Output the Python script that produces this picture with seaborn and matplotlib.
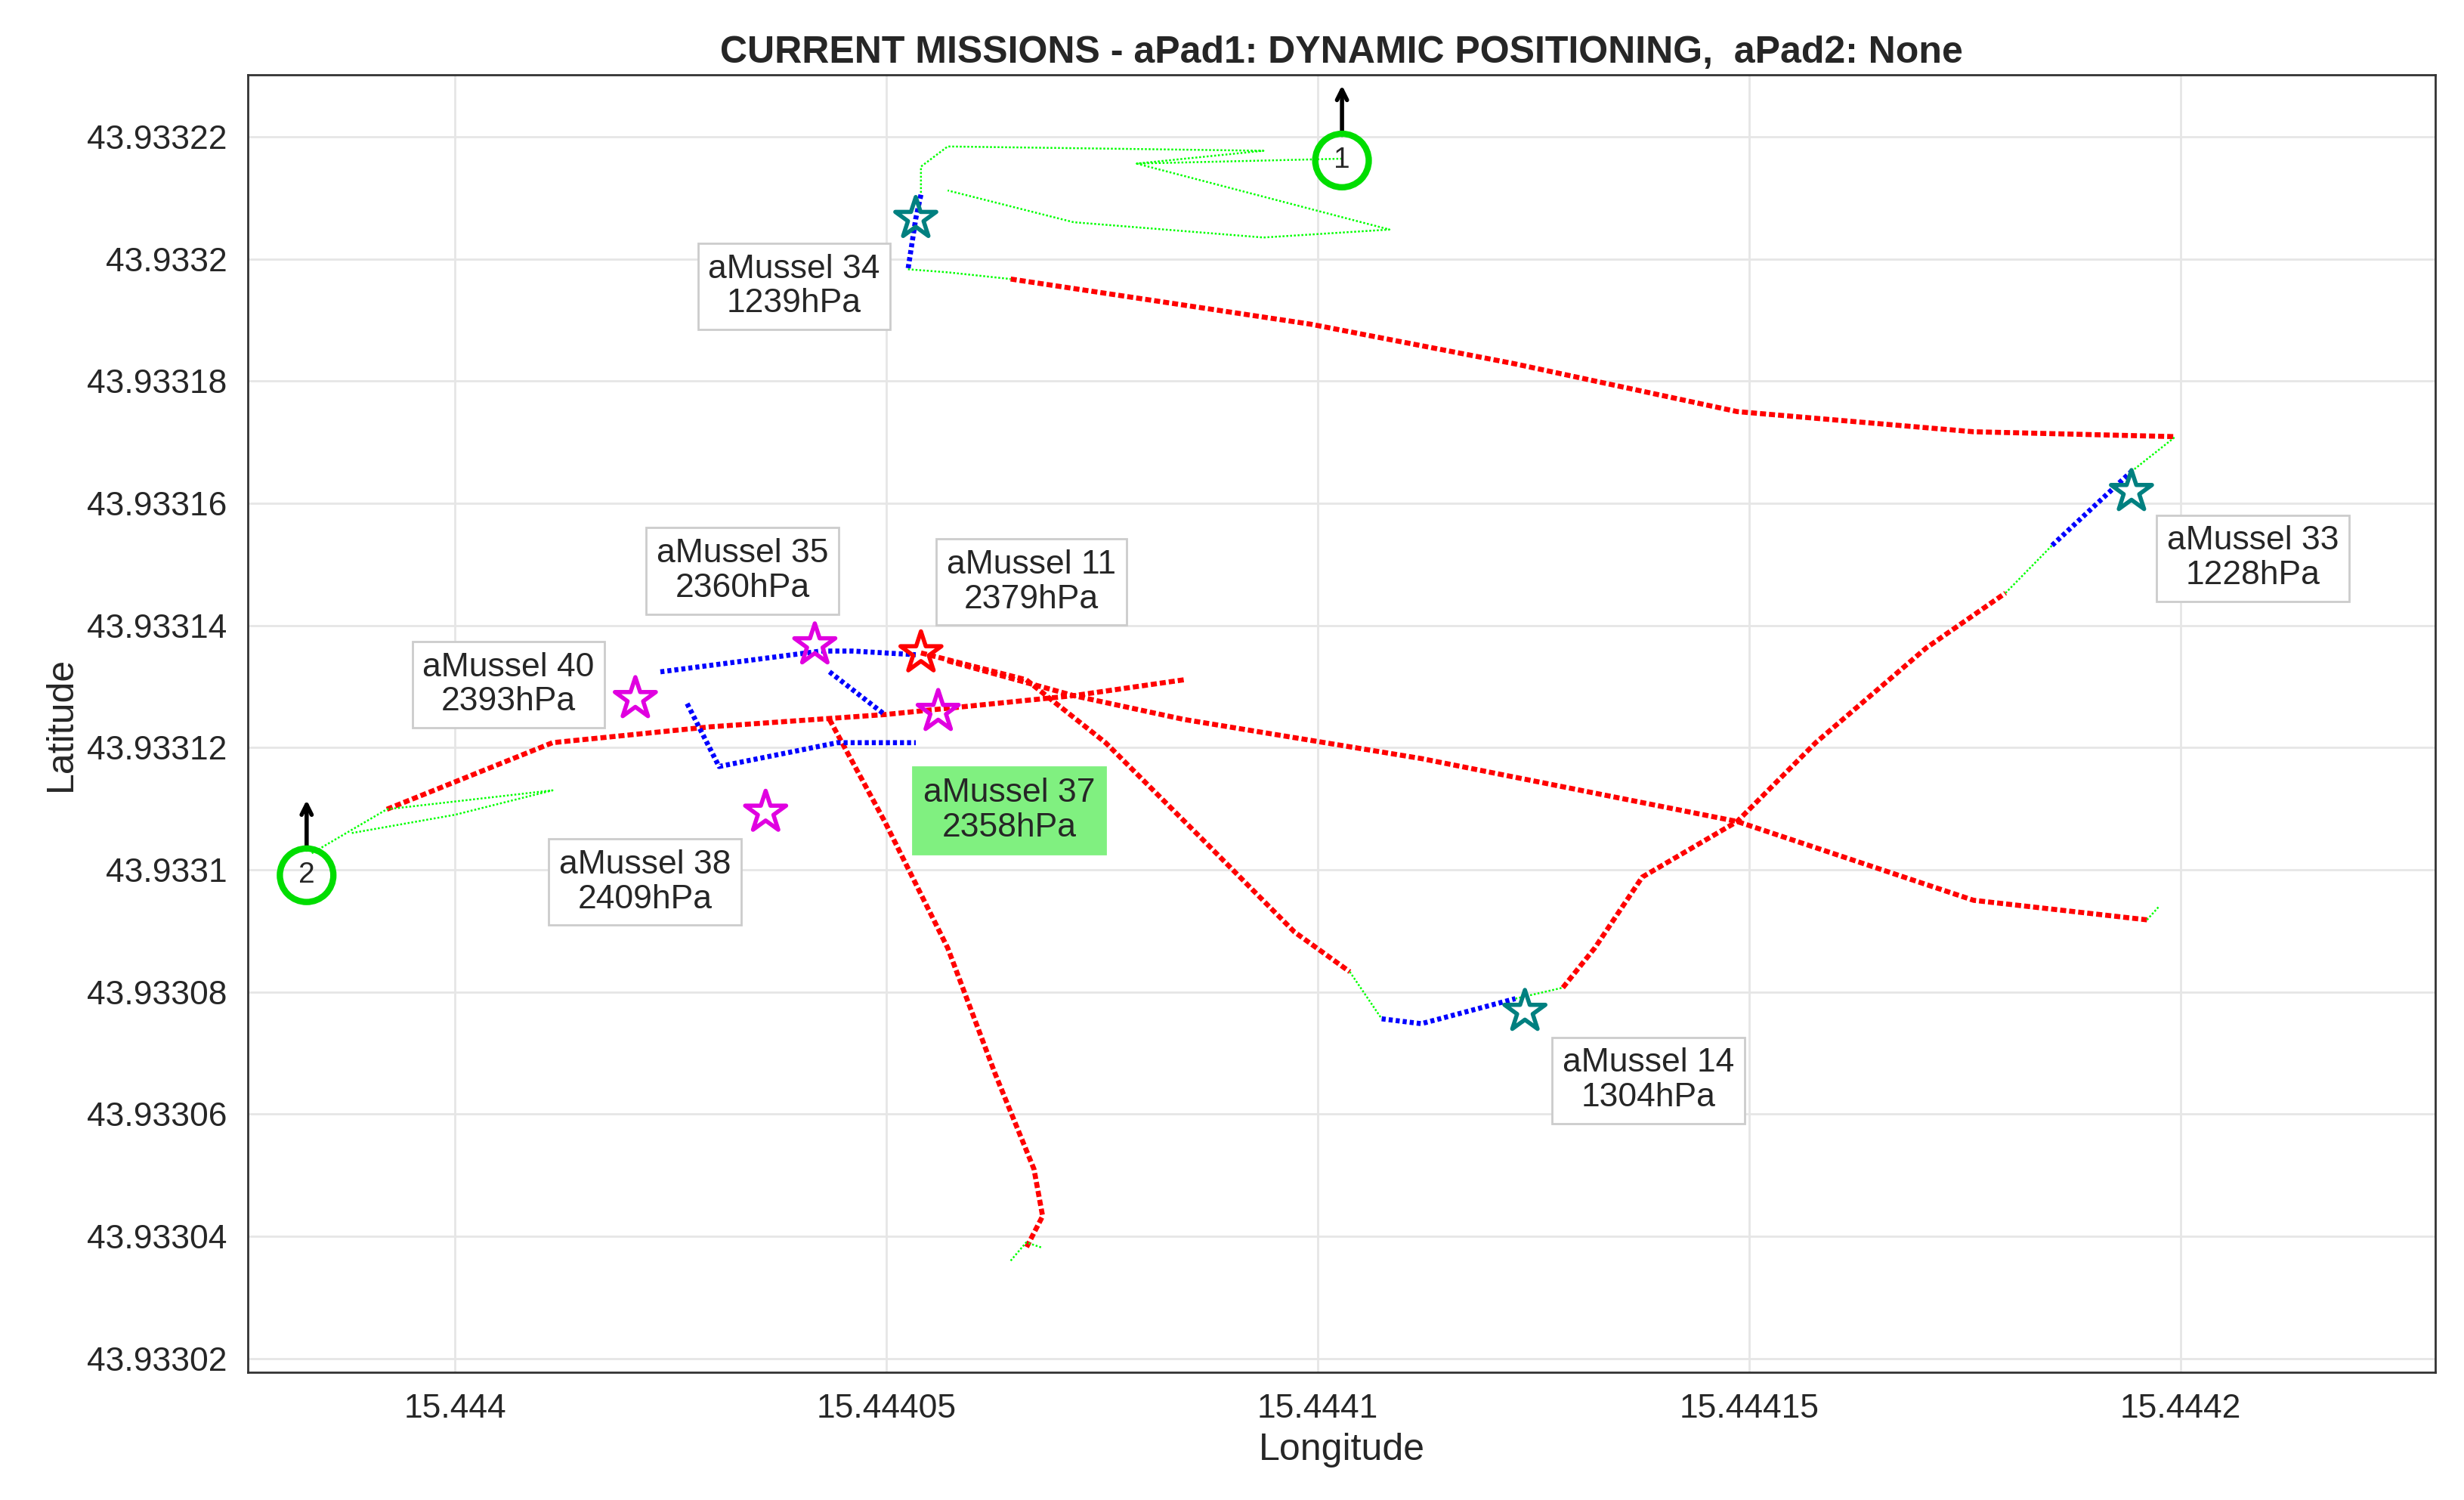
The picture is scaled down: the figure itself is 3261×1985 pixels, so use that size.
import matplotlib
matplotlib.use("Agg")
import matplotlib.pyplot as plt
import matplotlib.ticker as mticker
import numpy as np
import seaborn as sns

sns.set_theme(style="whitegrid")
plt.rcParams["font.family"] = ["Liberation Sans", "DejaVu Sans"]

LON0, LAT0 = 15.444, 43.9330  # offsets below are in 1e-6 degrees

# track segments: (colour, kind, lon offsets, lat offsets)
segments = [
    ("red", "main", [64.4, 99.2, 122.9, 148.6, 176.0, 199.4], [196.7, 189.3, 182.8, 175.0, 171.7, 170.9]),
    ("red", "main", [-7.9, 11.3, 29.6, 49.8, 71.7, 84.5], [109.9, 120.8, 123.4, 125.4, 128.5, 131.1]),
    ("red", "main", [57.1, 71.7, 84.5, 112.0, 148.6, 176.0, 196.1], [134.2, 128.5, 124.6, 118.2, 107.9, 95.0, 91.8]),
    ("red", "main", [54.0, 66.2, 75.4, 86.4, 97.3, 103.7], [135.5, 131.1, 120.8, 105.3, 89.8, 83.3]),
    ("red", "main", [43.4, 49.8, 57.1, 62.6, 67.1, 68.1, 66.2], [124.6, 107.9, 87.2, 66.6, 51.0, 43.3, 38.1]),
    ("red", "main", [128.4, 132.1, 137.6, 148.6, 157.7, 170.5, 179.7], [80.7, 87.2, 98.8, 107.9, 120.8, 136.3, 145.3]),
    ("blue", "mid", [54.0, 53.4, 52.5], [210.5, 206.6, 198.3]),
    ("blue", "mid", [23.8, 42.4, 46.1, 53.4], [132.4, 135.8, 135.8, 135.2]),
    ("blue", "mid", [26.9, 30.6, 44.3, 53.4], [127.2, 116.9, 120.8, 120.8]),
    ("blue", "mid", [43.4, 49.8], [132.4, 125.4]),
    ("blue", "mid", [107.4, 112.0, 122.9], [75.6, 74.8, 78.9]),
    ("blue", "mid", [185.1, 194.3], [153.1, 165.2]),
    ("lime", "thin", [102.8, 79.0, 93.7, 57.1, 54.0, 54.0], [216.4, 215.6, 217.7, 218.4, 215.1, 210.5]),
    ("lime", "thin", [79.0, 108.3, 93.7, 71.7, 57.1], [215.6, 204.8, 203.5, 206.0, 211.2]),
    ("lime", "thin", [52.5, 57.1, 64.4], [198.3, 197.8, 196.7]),
    ("lime", "thin", [179.7, 185.1], [145.3, 153.1]),
    ("lime", "thin", [194.3, 199.4], [165.2, 170.9]),
    ("lime", "thin", [103.7, 107.4], [83.3, 75.6]),
    ("lime", "thin", [122.9, 128.4], [78.9, 80.7]),
    ("lime", "thin", [-16.6, -7.9, 11.3, 0.0, -12.0], [102.7, 109.9, 113.0, 109.0, 106.0]),
    ("lime", "thin", [64.4, 66.2, 68.1], [36.0, 39.0, 38.1]),
    ("lime", "thin", [196.1, 197.5], [91.8, 94.0]),
]
styles = {"main": dict(lw=2.4, ls=(0, (1.2, 0.6))), "mid": dict(lw=2.4, ls=(0, (0.8, 0.6))),
          "thin": dict(lw=0.9, ls=(0, (1, 1)))}

star_lon = [53.4, 194.3, 124.0, 41.7, 54.0, 20.9, 56.0, 36.0]
star_lat = [206.6, 161.9, 76.8, 136.8, 135.5, 128.0, 125.9, 109.4]
star_col = ["#008080", "#008080", "#008080", "#E000E0", "red", "#E000E0", "#E000E0", "#E000E0"]

label_text = ["aMussel 34\n1239hPa", "aMussel 33\n1228hPa", "aMussel 14\n1304hPa", "aMussel 35\n2360hPa",
              "aMussel 11\n2379hPa", "aMussel 40\n2393hPa", "aMussel 37\n2358hPa", "aMussel 38\n2409hPa"]
label_lon = [39.3, 208.4, 138.3, 33.3, 66.8, 6.2, 64.2, 22.0]
label_lat = [195.5, 151.0, 65.5, 148.9, 147.1, 130.3, 109.7, 98.0]
label_bg = ["white"] * 6 + ["#80F080", "white"]

pads = ["1", "2"]
pad_lon = [102.8, -17.2]
pad_lat = [216.1, 99.1]

fig = plt.figure(figsize=(16.31, 9.925), dpi=200)
ax = fig.add_axes([0.1006, 0.085, 0.8874, 0.865])

for col, kind, xs, ys in segments:
    sns.lineplot(x=LON0 + np.array(xs) * 1e-6, y=LAT0 + np.array(ys) * 1e-6, sort=False,
                 estimator=None, color=col, ax=ax, **styles[kind])

for x, y, c in zip(star_lon, star_lat, star_col):
    ax.scatter(LON0 + x * 1e-6, LAT0 + y * 1e-6, marker="*", s=420, facecolors="none",
               edgecolors=c, linewidths=2, zorder=5)

for t, x, y, bg in zip(label_text, label_lon, label_lat, label_bg):
    ax.text(LON0 + x * 1e-6, LAT0 + y * 1e-6, t, ha="center", va="center", fontsize=16,
            linespacing=1.15,
            bbox=dict(facecolor=bg, edgecolor="#cccccc" if bg == "white" else bg, pad=5))

for t, x, y in zip(pads, pad_lon, pad_lat):
    px, py = LON0 + x * 1e-6, LAT0 + y * 1e-6
    ax.scatter(px, py, s=650, facecolors="none", edgecolors="#00DD00", linewidths=3, zorder=6)
    ax.text(px, py, t, ha="center", va="center", fontsize=14, zorder=7)
    ax.annotate("", xy=(px, py + 13e-6), xytext=(px, py + 3.5e-6),
                arrowprops=dict(arrowstyle="->", lw=2, color="black"), annotation_clip=False)

ax.set_xlim(15.443976, 15.4442295)
ax.set_ylim(43.9330177, 43.9332301)
ax.xaxis.set_major_locator(mticker.MultipleLocator(0.00005))
ax.yaxis.set_major_locator(mticker.MultipleLocator(0.00002))
fmt = mticker.FuncFormatter(lambda v, p: f"{v:.5f}".rstrip("0").rstrip("."))
ax.xaxis.set_major_formatter(fmt)
ax.yaxis.set_major_formatter(fmt)
ax.tick_params(labelsize=16, length=0, pad=10)
ax.grid(True, color="#e6e6e6", lw=1)
for s in ax.spines.values():
    s.set_color("#333333")
    s.set_linewidth(1)
ax.set_xlabel("Longitude", fontsize=18)
ax.set_ylabel("Latitude", fontsize=18)
ax.set_title("CURRENT MISSIONS - aPad1: DYNAMIC POSITIONING,  aPad2: None", fontsize=18,
             fontweight="bold", pad=6)

fig.savefig("out.png", dpi=200)
